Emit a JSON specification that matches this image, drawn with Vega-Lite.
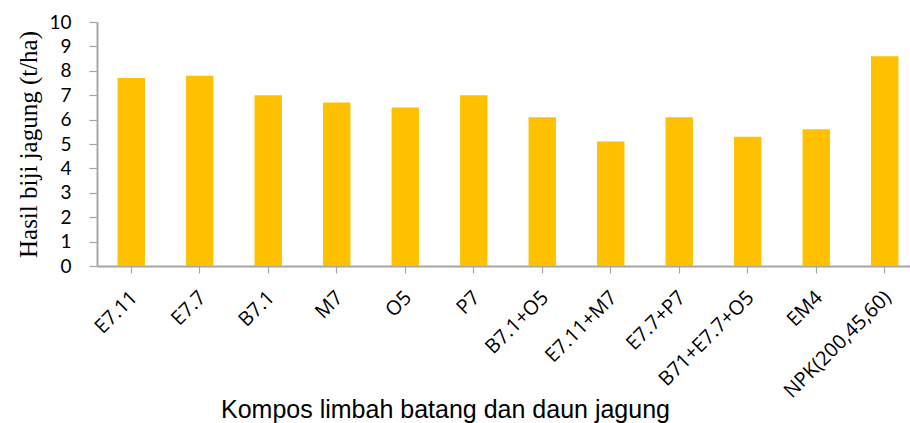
{
  "$schema": "https://vega.github.io/schema/vega-lite/v6.json",
  "width": 813,
  "height": 244,
  "autosize": {"type": "none"},
  "padding": {"left": 97, "top": 22, "right": 0, "bottom": 157},
  "background": "white",
  "config": {"view": {"stroke": null}},
  "data": {
    "values": [
      {"kompos": "E7.11", "hasil": 7.7},
      {"kompos": "E7.7", "hasil": 7.8},
      {"kompos": "B7.1", "hasil": 7.0},
      {"kompos": "M7", "hasil": 6.7},
      {"kompos": "O5", "hasil": 6.5},
      {"kompos": "P7", "hasil": 7.0},
      {"kompos": "B7.1+O5", "hasil": 6.1},
      {"kompos": "E7.11+M7", "hasil": 5.1},
      {"kompos": "E7.7+P7", "hasil": 6.1},
      {"kompos": "B71+E7.7+O5", "hasil": 5.3},
      {"kompos": "EM4", "hasil": 5.6},
      {"kompos": "NPK(200,45,60)", "hasil": 8.6}
    ]
  },
  "mark": {"type": "bar", "color": "#FFC000"},
  "encoding": {
    "x": {
      "field": "kompos",
      "type": "nominal",
      "sort": null,
      "scale": {"range": [0, 822], "paddingInner": 0.6, "paddingOuter": 0.3},
      "axis": {
        "title": "Kompos limbah batang dan daun jagung",
        "titleFont": "Liberation Sans",
        "titleFontSize": 25,
        "titleFontWeight": "normal",
        "titleColor": "#000000",
        "titleX": 348,
        "titleY": 151,
        "titleBaseline": "alphabetic",
        "titleAlign": "center",
        "labelAngle": -45,
        "labelFont": "Open Sans",
        "labelFontSize": 20,
        "labelColor": "#000000",
        "labelPadding": 14,
        "labelOffset": -4,
        "labelOverlap": false,
        "tickSize": 7,
        "tickColor": "#A6A6A6",
        "tickWidth": 1.2,
        "domainColor": "#A6A6A6",
        "domainWidth": 2,
        "grid": false
      }
    },
    "y": {
      "field": "hasil",
      "type": "quantitative",
      "scale": {"domain": [0, 10], "nice": false},
      "axis": {
        "values": [0, 1, 2, 3, 4, 5, 6, 7, 8, 9, 10],
        "title": "Hasil biji jagung (t/ha)",
        "titleFont": "Liberation Serif",
        "titleFontSize": 25,
        "titleFontWeight": "normal",
        "titleColor": "#000000",
        "titleX": -61,
        "titleY": 122,
        "titleAngle": 270,
        "titleAlign": "center",
        "titleBaseline": "alphabetic",
        "labelFont": "Lato",
        "labelFontSize": 19,
        "labelColor": "#000000",
        "labelPadding": 18,
        "tickSize": 8,
        "tickColor": "#A6A6A6",
        "tickWidth": 1.2,
        "domainColor": "#A6A6A6",
        "domainWidth": 2,
        "grid": false
      }
    }
  }
}
